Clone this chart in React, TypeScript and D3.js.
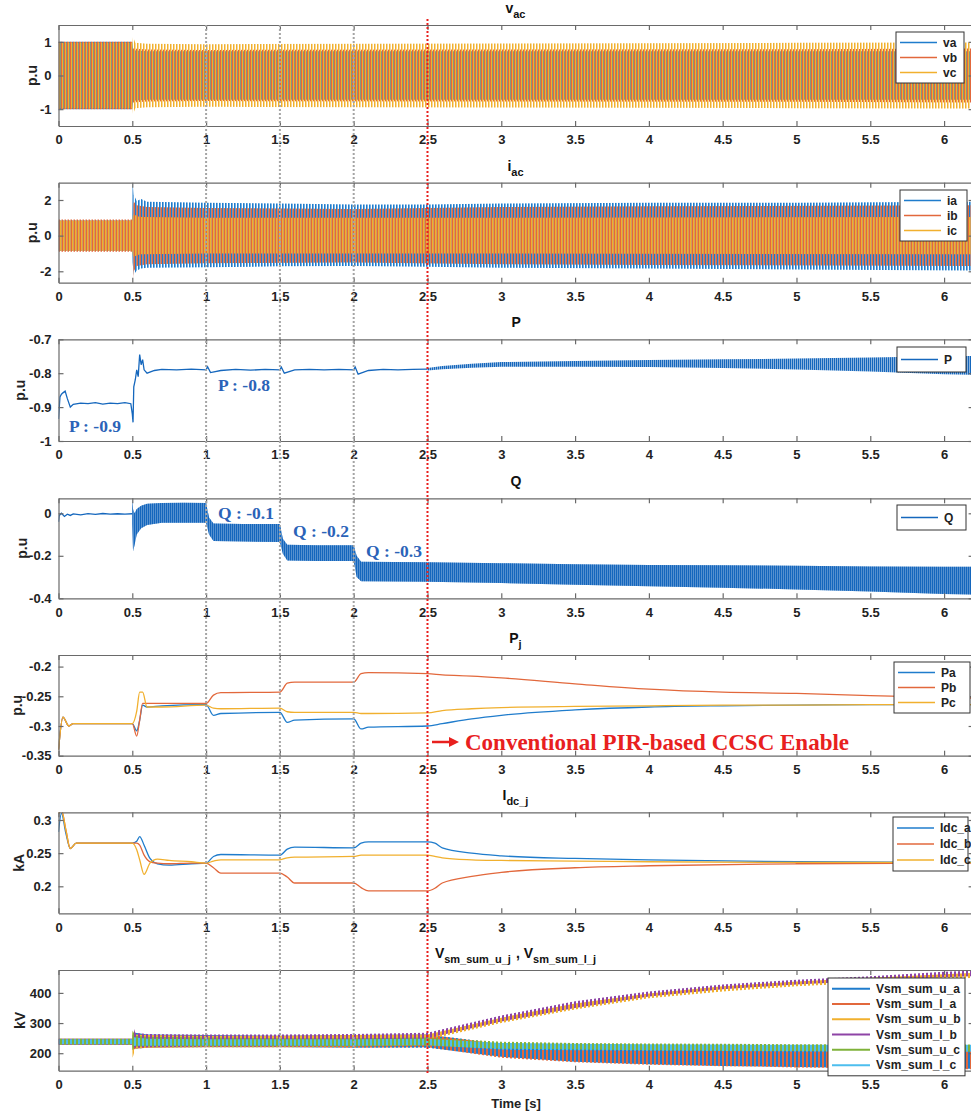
import React, { useEffect, useRef } from "react";
import * as d3 from "d3";

// ---- data ----
const xTicks = [0, 0.5, 1, 1.5, 2, 2.5, 3, 3.5, 4, 4.5, 5, 5.5, 6];
const stepTimes = [1, 1.5, 2];
const enableTime = 2.5;

// v_ac envelopes: [t, amplitude]
const vaEnv = [[0, 1], [0.5, 1], [0.505, 0.75], [0.6, 0.72], [1, 0.72], [3, 0.72], [6.2, 0.72]];
const vbEnv = [[0, 1], [0.5, 1], [0.505, 0.8], [0.6, 0.77], [1, 0.76], [3, 0.77], [5, 0.78], [6.2, 0.8]];
const vcEnv = [[0, 0.98], [0.5, 0.98], [0.505, 1.15], [0.52, 0.97], [0.6, 0.94], [1, 0.93], [3, 0.95], [5, 0.97], [6.2, 0.98]];

// i_ac envelopes: [t, upper, lower]
const iaEnv = [[0, 0.85, -0.85], [0.5, 0.85, -0.85], [0.502, 2.95, -1.5], [0.51, 2.3, -2.2], [0.53, 1.95, -1.95], [0.56, 2.05, -1.85], [0.6, 1.9, -1.8], [1, 1.85, -1.78], [1.5, 1.8, -1.72], [2, 1.75, -1.7], [2.5, 1.75, -1.75], [3, 1.8, -1.8], [4, 1.85, -1.85], [5, 1.85, -1.9], [6.2, 1.9, -1.95]];
const ibEnv = [[0, 0.9, -0.9], [0.5, 0.9, -0.9], [0.502, 1.6, -2.64], [0.51, 1.9, -2.0], [0.53, 1.7, -1.7], [0.6, 1.6, -1.6], [1, 1.55, -1.55], [2, 1.5, -1.5], [3, 1.6, -1.6], [4, 1.65, -1.65], [6.2, 1.7, -1.7]];
const icEnv = [[0, 0.85, -0.85], [0.5, 0.85, -0.85], [0.505, 1.2, -1.2], [0.55, 1.05, -1.05], [1, 1.0, -1.0], [3, 1.0, -1.0], [6.2, 1.05, -1.05]];

// P: [t, value] then oscillating band [t, upper, lower]
const pLine = [[0, -0.935], [0.01, -0.87], [0.02, -0.862], [0.03, -0.858], [0.045, -0.853], [0.06, -0.875], [0.08, -0.9], [0.1, -0.892], [0.15, -0.888], [0.2, -0.89], [0.25, -0.887], [0.3, -0.891], [0.35, -0.888], [0.4, -0.89], [0.45, -0.887], [0.49, -0.89], [0.5, -0.92], [0.505, -0.945], [0.51, -0.84], [0.52, -0.82], [0.53, -0.79], [0.54, -0.81], [0.55, -0.745], [0.56, -0.775], [0.57, -0.76], [0.58, -0.79], [0.6, -0.8], [0.65, -0.792], [0.7, -0.789], [0.8, -0.79], [0.9, -0.788], [1.0, -0.79], [1.01, -0.781], [1.03, -0.798], [1.1, -0.792], [1.2, -0.789], [1.3, -0.791], [1.4, -0.789], [1.5, -0.79], [1.51, -0.782], [1.53, -0.8], [1.6, -0.79], [1.7, -0.789], [1.8, -0.79], [1.9, -0.789], [2.0, -0.79], [2.01, -0.782], [2.03, -0.803], [2.1, -0.792], [2.2, -0.789], [2.3, -0.79], [2.4, -0.789], [2.5, -0.788]];
const pBand = [[2.5, -0.785, -0.792], [2.6, -0.779, -0.788], [2.8, -0.772, -0.784], [3.0, -0.767, -0.781], [3.5, -0.764, -0.781], [4.0, -0.761, -0.782], [4.5, -0.759, -0.785], [5.0, -0.757, -0.789], [5.5, -0.754, -0.795], [6.0, -0.75, -0.803], [6.2, -0.749, -0.805]];

// Q
const qLine = [[0, -0.04], [0.005, -0.01], [0.02, 0.0], [0.04, -0.015], [0.06, -0.004], [0.08, -0.01], [0.1, -0.003], [0.15, -0.007], [0.2, -0.002], [0.25, -0.005], [0.3, -0.001], [0.35, -0.004], [0.4, -0.002], [0.45, -0.004], [0.5, -0.002]];
const qBand = [[0.5, 0.07, -0.05], [0.505, 0.02, -0.18], [0.515, 0.0, -0.15], [0.53, 0.02, -0.1], [0.56, 0.035, -0.07], [0.6, 0.045, -0.055], [0.7, 0.048, -0.045], [0.85, 0.05, -0.045], [1.0, 0.048, -0.045], [1.02, -0.02, -0.1], [1.05, -0.048, -0.13], [1.25, -0.05, -0.133], [1.5, -0.05, -0.135], [1.52, -0.12, -0.19], [1.55, -0.148, -0.222], [1.75, -0.15, -0.225], [2.0, -0.15, -0.225], [2.02, -0.2, -0.3], [2.05, -0.228, -0.32], [2.5, -0.23, -0.322], [3.0, -0.235, -0.328], [3.5, -0.24, -0.336], [4.0, -0.243, -0.343], [4.5, -0.245, -0.35], [5.0, -0.247, -0.358], [5.5, -0.25, -0.368], [6.0, -0.252, -0.38], [6.2, -0.252, -0.382]];

// P_j
const pjTime = [0, 0.03, 0.07, 0.1, 0.5, 0.53, 0.55, 0.57, 0.6, 0.7, 1.0, 1.05, 1.1, 1.5, 1.55, 1.6, 2.0, 2.05, 2.1, 2.5, 2.6, 2.8, 3, 3.5, 4, 4.5, 5, 5.5, 6, 6.2];
const paValues = [-0.34, -0.285, -0.3, -0.296, -0.296, -0.308, -0.29, -0.265, -0.268, -0.266, -0.264, -0.282, -0.279, -0.277, -0.294, -0.29, -0.288, -0.305, -0.302, -0.3, -0.296, -0.288, -0.282, -0.273, -0.268, -0.266, -0.265, -0.264, -0.264, -0.264];
const pbValues = [-0.34, -0.285, -0.3, -0.296, -0.296, -0.317, -0.29, -0.262, -0.262, -0.262, -0.262, -0.248, -0.244, -0.243, -0.228, -0.226, -0.226, -0.212, -0.21, -0.212, -0.214, -0.216, -0.219, -0.229, -0.238, -0.243, -0.245, -0.249, -0.252, -0.253];
const pcValues = [-0.34, -0.285, -0.3, -0.296, -0.296, -0.275, -0.243, -0.243, -0.268, -0.268, -0.265, -0.27, -0.271, -0.27, -0.276, -0.277, -0.277, -0.279, -0.279, -0.278, -0.274, -0.271, -0.269, -0.267, -0.266, -0.265, -0.265, -0.264, -0.264, -0.264];

// I_dc_j
const idcTime = [0, 0.02, 0.05, 0.08, 0.12, 0.5, 0.53, 0.55, 0.58, 0.62, 0.67, 0.75, 0.9, 1.0, 1.05, 1.1, 1.5, 1.55, 1.6, 2.0, 2.05, 2.1, 2.5, 2.55, 2.6, 2.8, 3, 3.5, 4, 5, 6, 6.2];
const idcA = [0.282, 0.31, 0.28, 0.257, 0.265, 0.265, 0.268, 0.275, 0.262, 0.242, 0.234, 0.232, 0.234, 0.235, 0.245, 0.248, 0.247, 0.256, 0.259, 0.258, 0.265, 0.267, 0.267, 0.265, 0.258, 0.25, 0.246, 0.242, 0.24, 0.237, 0.236, 0.236];
const idcB = [0.31, 0.315, 0.285, 0.257, 0.265, 0.265, 0.265, 0.262, 0.247, 0.237, 0.235, 0.234, 0.235, 0.235, 0.228, 0.22, 0.22, 0.214, 0.205, 0.205, 0.198, 0.193, 0.193, 0.197, 0.205, 0.215, 0.221, 0.228, 0.231, 0.234, 0.235, 0.235];
const idcC = [0.31, 0.315, 0.285, 0.257, 0.265, 0.265, 0.255, 0.24, 0.218, 0.235, 0.241, 0.239, 0.237, 0.235, 0.238, 0.24, 0.24, 0.243, 0.244, 0.245, 0.247, 0.247, 0.247, 0.245, 0.243, 0.24, 0.239, 0.238, 0.237, 0.236, 0.236, 0.236];

// Vsm envelopes (kV)
const vsmTime = [0, 0.5, 0.502, 0.52, 0.6, 1, 1.5, 2, 2.5, 3, 3.5, 4, 4.5, 5, 5.5, 6, 6.2];
const uaUpper = [248, 248, 260, 268, 262, 260, 258, 260, 262, 232, 224, 220, 217, 215, 214, 213, 213];
const uaLower = [228, 228, 215, 215, 218, 220, 220, 218, 218, 188, 172, 163, 158, 154, 151, 149, 148];
const laUpper = [248, 248, 265, 265, 262, 258, 258, 262, 262, 230, 222, 218, 216, 214, 213, 212, 212];
const laLower = [228, 228, 210, 215, 218, 220, 220, 218, 220, 185, 170, 162, 157, 153, 150, 148, 147];
const ubUpper = [248, 248, 270, 262, 260, 258, 258, 260, 262, 318, 365, 398, 422, 438, 450, 462, 466];
const ubLower = [228, 228, 185, 215, 218, 220, 220, 222, 245, 300, 345, 382, 405, 422, 434, 446, 450];
const lbUpper = [248, 248, 295, 268, 264, 262, 262, 264, 268, 325, 372, 405, 428, 444, 455, 470, 474];
const lbLower = [228, 228, 220, 218, 220, 222, 222, 224, 250, 305, 350, 388, 412, 428, 440, 452, 456];
const ucUpper = [248, 248, 275, 258, 255, 252, 250, 250, 252, 238, 234, 232, 231, 230, 230, 229, 229];
const ucLower = [228, 228, 210, 222, 222, 222, 222, 222, 225, 215, 212, 210, 208, 207, 206, 205, 205];
const lcUpper = [246, 246, 255, 252, 248, 246, 246, 246, 248, 234, 231, 230, 229, 228, 228, 228, 228];
const lcLower = [230, 230, 222, 225, 225, 225, 225, 225, 226, 212, 210, 208, 207, 206, 205, 205, 205];

const C = {
  blue: "#1f7ccc",
  orange: "#e2683c",
  yellow: "#f1b02e",
  purple: "#8e44a6",
  green: "#7fb23a",
  cyan: "#4dbeee",
  pq: "#1567bd",
};

const FONT = "'Liberation Sans', Arial, sans-serif";

const App = () => {
  const svgRef = useRef(null);

  useEffect(() => {
    const svg = d3.select(svgRef.current);
    svg.selectAll("*").remove();

    const x = d3.scaleLinear().domain([0, 6.2]).range([58.5, 973.6]);
    const [xl, xr] = x.range();

    const defs = svg.append("defs");
    const stripe = (id, color, period, offset, w) => {
      const p = defs
        .append("pattern")
        .attr("id", id)
        .attr("patternUnits", "userSpaceOnUse")
        .attr("width", period)
        .attr("height", 10);
      p.append("rect").attr("x", offset).attr("width", w).attr("height", 10).attr("fill", color);
      if (offset + w > period) {
        p.append("rect").attr("x", offset - period).attr("width", w).attr("height", 10).attr("fill", color);
      }
    };
    stripe("va", C.blue, 3, 0, 1.5);
    stripe("vb", C.orange, 3, 1, 2);
    stripe("vc", C.yellow, 3, 2, 1.5);
    stripe("ia", C.blue, 3, 0, 1.6);
    stripe("ib", C.orange, 3, 1.5, 1.5);
    stripe("ic", C.yellow, 3, 0, 1.5);
    stripe("pqs", C.pq, 2, 0, 1.5);
    const vsmStripes = [
      [C.blue, 0],
      [C.orange, 2],
      [C.yellow, 0],
      [C.purple, 2],
      [C.green, 0],
      [C.cyan, 2],
    ];
    vsmStripes.forEach(([c, off], i) => stripe("vsm" + i, c, 4, off, 2));

    const panel = (idx, top, bottom, domain, yTicks, ylabel, labelX, title) => {
      const y = d3.scaleLinear().domain(domain).range([bottom, top]);
      const g = svg.append("g");
      g.append("clipPath")
        .attr("id", "clip" + idx)
        .append("rect")
        .attr("x", xl)
        .attr("y", top)
        .attr("width", xr - xl)
        .attr("height", bottom - top);
      const plot = g.append("g").attr("clip-path", `url(#clip${idx})`);

      const styleAxis = (a) => {
        a.selectAll("path").attr("stroke", "#6a6a6a").attr("stroke-width", 1.2);
        a.selectAll("line").attr("stroke", "#6a6a6a").attr("stroke-width", 1.2);
        a.selectAll("text")
          .attr("fill", "#222")
          .style("font-family", FONT)
          .style("font-weight", "bold")
          .style("font-size", "13px");
      };
      const blank = () => "";
      styleAxis(
        g.append("g")
          .attr("transform", `translate(0,${bottom})`)
          .call(d3.axisBottom(x).tickValues(xTicks).tickSize(-5).tickSizeOuter(0).tickPadding(9).tickFormat((d) => String(d)))
      );
      styleAxis(
        g.append("g")
          .attr("transform", `translate(0,${top})`)
          .call(d3.axisTop(x).tickValues(xTicks).tickSize(-5).tickSizeOuter(0).tickFormat(blank))
      );
      styleAxis(
        g.append("g")
          .attr("transform", `translate(${xl},0)`)
          .call(d3.axisLeft(y).tickValues(yTicks).tickSize(-5).tickSizeOuter(0).tickPadding(7).tickFormat((d) => String(d)))
      );
      styleAxis(
        g.append("g")
          .attr("transform", `translate(${xr},0)`)
          .call(d3.axisRight(y).tickValues(yTicks).tickSize(-5).tickSizeOuter(0).tickFormat(blank))
      );

      g.append("text")
        .attr("transform", `translate(${labelX},${(top + bottom) / 2}) rotate(-90)`)
        .attr("text-anchor", "middle")
        .attr("dy", "0.35em")
        .style("font-family", FONT)
        .style("font-weight", "bold")
        .style("font-size", "14px")
        .attr("fill", "#222")
        .text(ylabel);

      const t = g
        .append("text")
        .attr("x", (xl + xr) / 2)
        .attr("y", top - 12)
        .attr("text-anchor", "middle")
        .style("font-family", FONT)
        .style("font-weight", "bold")
        .style("font-size", "14px")
        .attr("fill", "#111");
      title.forEach(([txt, sub]) => {
        if (sub) {
          t.append("tspan").attr("dy", 5).style("font-size", "11px").text(txt);
          t.append("tspan").attr("dy", -5).text("\u200a");
        } else {
          t.append("tspan").text(txt);
        }
      });
      return { plot, y, g };
    };

    const band = (plot, y, rows, fill, opacity = 1) => {
      const area = d3
        .area()
        .x((d) => x(d[0]))
        .y0((d) => y(d[2]))
        .y1((d) => y(d[1]));
      plot.append("path").datum(rows).attr("d", area).attr("fill", fill).attr("fill-opacity", opacity);
    };
    const symBand = (env) => env.map(([t, a]) => [t, a, -a]);
    const zip3 = (t, u, l) => t.map((v, i) => [v, u[i], l[i]]);
    const zip2 = (t, v) => t.map((d, i) => [d, v[i]]);
    const line = (plot, y, rows, color, width, curve = d3.curveLinear) => {
      const gen = d3
        .line()
        .x((d) => x(d[0]))
        .y((d) => y(d[1]))
        .curve(curve);
      plot.append("path").datum(rows).attr("d", gen).attr("fill", "none").attr("stroke", color).attr("stroke-width", width);
    };

    const legend = (g, bx, by, bw, rowH, entries, lineW = 1.4, sample = 37) => {
      const lg = g.append("g");
      lg.append("rect")
        .attr("x", bx)
        .attr("y", by)
        .attr("width", bw)
        .attr("height", rowH * entries.length + 6)
        .attr("fill", "#fff")
        .attr("stroke", "#333")
        .attr("stroke-width", 1);
      entries.forEach(([label, color], i) => {
        const cy = by + 3 + rowH * (i + 0.5);
        lg.append("line")
          .attr("x1", bx + 4)
          .attr("x2", bx + 4 + sample)
          .attr("y1", cy)
          .attr("y2", cy)
          .attr("stroke", color)
          .attr("stroke-width", lineW);
        lg.append("text")
          .attr("x", bx + 10 + sample)
          .attr("y", cy)
          .attr("dy", "0.35em")
          .style("font-family", FONT)
          .style("font-weight", "bold")
          .style("font-size", "12px")
          .attr("fill", "#222")
          .text(label);
      });
    };

    // 1: v_ac
    {
      const { plot, y, g } = panel(1, 25, 126, [-1.5, 1.5], [-1, 0, 1], "p.u", 32, [["v"], ["ac", true]]);
      band(plot, y, symBand(vaEnv), "url(#va)");
      band(plot, y, symBand(vbEnv), "url(#vb)");
      band(plot, y, symBand(vcEnv), "url(#vc)");
      legend(g, 896, 32, 68, 15, [["va", C.blue], ["vb", C.orange], ["vc", C.yellow]]);
    }
    // 2: i_ac
    {
      const { plot, y, g } = panel(2, 182.7, 282.7, [-2.64, 2.97], [-2, 0, 2], "p.u", 32, [["i"], ["ac", true]]);
      band(plot, y, iaEnv, "url(#ia)");
      band(plot, y, ibEnv, "url(#ib)");
      band(plot, y, icEnv, "url(#ic)");
      legend(g, 900, 190, 67, 15, [["ia", C.blue], ["ib", C.orange], ["ic", C.yellow]]);
    }
    // 3: P
    {
      const { plot, y, g } = panel(3, 339.3, 441, [-1, -0.7], [-1, -0.9, -0.8, -0.7], "p.u", 20, [["P"]]);
      line(plot, y, pLine, C.pq, 1.3);
      band(plot, y, pBand, "url(#pqs)");
      legend(g, 897, 347, 69, 19, [["P", C.pq]]);
    }
    // 4: Q
    {
      const { plot, y, g } = panel(4, 498.3, 598.3, [-0.4, 0.0706], [-0.4, -0.2, 0], "p.u", 22, [["Q"]]);
      line(plot, y, qLine, C.pq, 1.3);
      band(plot, y, qBand, "url(#pqs)");
      band(plot, y, qBand, C.pq, 0.45);
      legend(g, 897, 505, 69, 19, [["Q", C.pq]]);
    }
    // 5: P_j
    {
      const { plot, y, g } = panel(5, 655, 755.7, [-0.35, -0.1805], [-0.35, -0.3, -0.25, -0.2], "p.u", 17, [["P"], ["j", true]]);
      line(plot, y, zip2(pjTime, paValues), C.blue, 1.3, d3.curveMonotoneX);
      line(plot, y, zip2(pjTime, pbValues), C.orange, 1.3, d3.curveMonotoneX);
      line(plot, y, zip2(pjTime, pcValues), C.yellow, 1.3, d3.curveMonotoneX);
      legend(g, 894, 662, 76, 15, [["Pa", C.blue], ["Pb", C.orange], ["Pc", C.yellow]]);
    }
    // 6: I_dc_j
    {
      const { plot, y, g } = panel(6, 812.3, 913.3, [0.1593, 0.3116], [0.2, 0.25, 0.3], "kA", 19, [["I"], ["dc_j", true]]);
      line(plot, y, zip2(idcTime, idcA), C.blue, 1.3, d3.curveMonotoneX);
      line(plot, y, zip2(idcTime, idcB), C.orange, 1.3, d3.curveMonotoneX);
      line(plot, y, zip2(idcTime, idcC), C.yellow, 1.3, d3.curveMonotoneX);
      legend(g, 893, 817, 75, 16, [["Idc_a", C.blue], ["Idc_b", C.orange], ["Idc_c", C.yellow]]);
    }
    // 7: Vsm
    {
      const { plot, y, g } = panel(7, 970, 1070.7, [142, 476], [200, 300, 400], "kV", 20, [["V"], ["sm_sum_u_j", true], [" , V"], ["sm_sum_l_j", true]]);
      const sets = [
        [uaUpper, uaLower],
        [laUpper, laLower],
        [ubUpper, ubLower],
        [lbUpper, lbLower],
        [ucUpper, ucLower],
        [lcUpper, lcLower],
      ];
      sets.forEach(([u, l], i) => band(plot, y, zip3(vsmTime, u, l), `url(#vsm${i})`));
      legend(
        g,
        828,
        978,
        137,
        15.3,
        [
          ["Vsm_sum_u_a", C.blue],
          ["Vsm_sum_l_a", C.orange],
          ["Vsm_sum_u_b", C.yellow],
          ["Vsm_sum_l_b", C.purple],
          ["Vsm_sum_u_c", C.green],
          ["Vsm_sum_l_c", C.cyan],
        ],
        2,
        38
      );
    }

    // step markers and CCSC enable line
    stepTimes.forEach((t) => {
      svg.append("line")
        .attr("x1", x(t))
        .attr("x2", x(t))
        .attr("y1", 25)
        .attr("y2", 1072)
        .attr("stroke", "#a5a5a5")
        .attr("stroke-width", 2)
        .attr("stroke-dasharray", "2,2");
    });
    svg.append("line")
      .attr("x1", x(enableTime))
      .attr("x2", x(enableTime))
      .attr("y1", 19)
      .attr("y2", 1073)
      .attr("stroke", "#e8201e")
      .attr("stroke-width", 2)
      .attr("stroke-dasharray", "2,2");

    // annotations
    const note = (tx, ty, text, color, size) =>
      svg.append("text")
        .attr("x", tx)
        .attr("y", ty)
        .style("font-family", "'Liberation Serif', 'Times New Roman', serif")
        .style("font-weight", "bold")
        .style("font-size", size + "px")
        .attr("fill", color)
        .text(text);
    const annBlue = "#2b63b8";
    note(69, 432, "P : -0.9", annBlue, 17.5);
    note(218, 391, "P : -0.8", annBlue, 17.5);
    note(218, 519, "Q : -0.1", annBlue, 17.5);
    note(293, 537, "Q : -0.2", annBlue, 17.5);
    note(366, 557, "Q : -0.3", annBlue, 17.5);

    const red = "#e8201e";
    svg.append("line").attr("x1", 432).attr("x2", 450).attr("y1", 742).attr("y2", 742).attr("stroke", red).attr("stroke-width", 2.5);
    svg.append("path").attr("d", "M449,737 L459,742 L449,747 Z").attr("fill", red);
    note(465, 750, "Conventional PIR-based CCSC Enable", red, 23);

    svg.append("text")
      .attr("x", (xl + xr) / 2)
      .attr("y", 1108)
      .attr("text-anchor", "middle")
      .style("font-family", FONT)
      .style("font-weight", "bold")
      .style("font-size", "13px")
      .attr("fill", "#222")
      .text("Time [s]");
  }, []);

  return (
    <svg
      ref={svgRef}
      width={971}
      height={1117}
      style={{ position: "absolute", left: 0, top: 0, background: "#fff" }}
    />
  );
};

export default App;
